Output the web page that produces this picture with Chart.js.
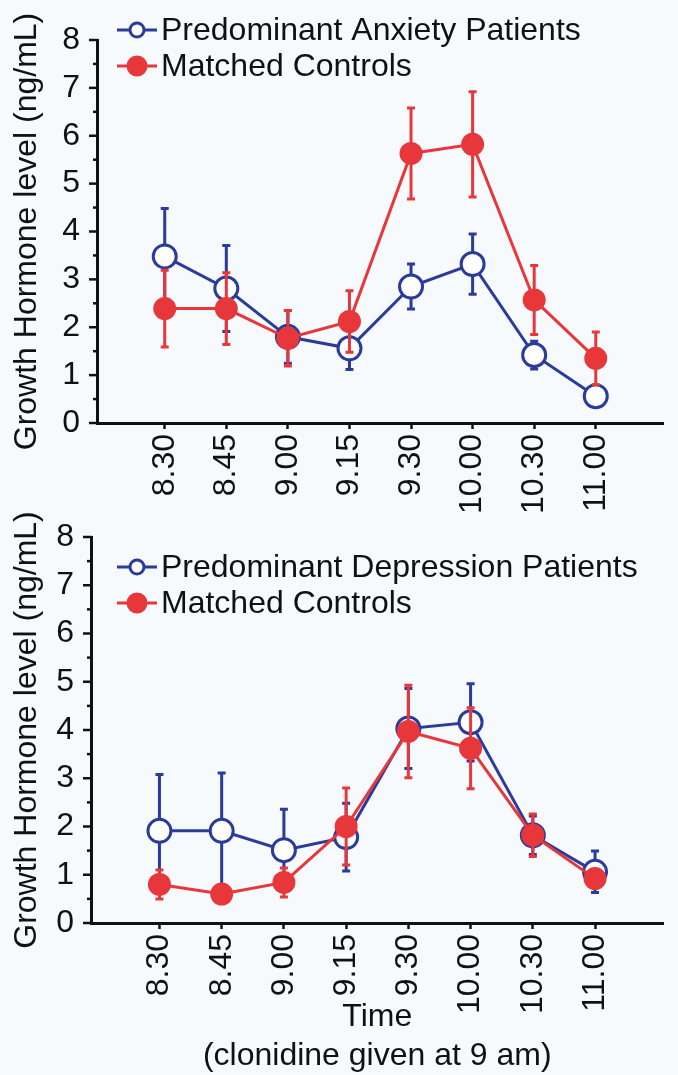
<!DOCTYPE html>
<html>
<head>
<meta charset="utf-8">
<script src="https://cdn.jsdelivr.net/npm/chart.js@4.4.1/dist/chart.umd.min.js"></script>
<style>
    html, body { margin: 0; padding: 0; background: #f7fafd; }
    body { width: 678px; height: 1075px; position: relative; overflow: hidden; }
    canvas { position: absolute; left: 0; }
    #anxietyChart { top: 0; }
    #depressionChart { top: 495px; }
</style>
</head>
<body>
<canvas id="anxietyChart" width="678" height="530"></canvas>
<canvas id="depressionChart" width="678" height="580"></canvas>
<script>
// sampling times (x categories)
const timeLabels = ["8.30", "8.45", "9.00", "9.15", "9.30", "10.00", "10.30", "11.00"];

// top panel: anxiety
const anxietyPatients = [3.48, 2.81, 1.80, 1.56, 2.85, 3.32, 1.42, 0.56];
const anxietyPatientsErr = [1.00, 0.90, 0.55, 0.44, 0.47, 0.63, 0.29, 0.10];
const anxietyControls = [2.39, 2.39, 1.77, 2.12, 5.63, 5.82, 2.57, 1.35];
const anxietyControlsErr = [0.80, 0.75, 0.58, 0.64, 0.95, 1.10, 0.72, 0.55];

// bottom panel: depression
const depressionPatients = [1.91, 1.91, 1.51, 1.78, 4.03, 4.16, 1.82, 1.06];
const depressionPatientsErr = [1.17, 1.20, 0.85, 0.70, 0.83, 0.80, 0.40, 0.43];
const depressionControls = [0.80, 0.60, 0.84, 2.00, 3.97, 3.62, 1.82, 0.92];
const depressionControlsErr = [0.30, 0.15, 0.30, 0.80, 0.96, 0.84, 0.44, 0.10];

const BLUE = "#2b3b9c";
const RED = "#e8373b";
const INK = "#111111";
const FONT = "'Liberation Sans', Arial, Helvetica, sans-serif";
const FS = 32;

Chart.defaults.font.family = FONT;
Chart.defaults.color = INK;

// error bars drawn just before each dataset, so markers sit on top
const errorBars = {
    id: "errorBars",
    beforeDatasetDraw(chart, args) {
        const ds = chart.data.datasets[args.index];
        if (!ds.errors) return;
        const yScale = chart.scales.y;
        const ctx = chart.ctx;
        ctx.save();
        ctx.strokeStyle = ds.borderColor;
        ctx.lineWidth = 3;
        args.meta.data.forEach((pt, i) => {
            const v = ds.data[i].y;
            const e = ds.errors[i];
            const top = yScale.getPixelForValue(v + e);
            const bot = yScale.getPixelForValue(v - e);
            ctx.beginPath();
            ctx.moveTo(pt.x, top);
            ctx.lineTo(pt.x, bot);
            ctx.moveTo(pt.x - 4, top);
            ctx.lineTo(pt.x + 4, top);
            ctx.moveTo(pt.x - 4, bot);
            ctx.lineTo(pt.x + 4, bot);
            ctx.stroke();
        });
        ctx.restore();
    }
};

// y tick marks: long on whole numbers, short on halves
const yTickMarks = {
    id: "yTickMarks",
    afterDraw(chart) {
        const y = chart.scales.y;
        const left = chart.chartArea.left;
        const ctx = chart.ctx;
        ctx.save();
        ctx.strokeStyle = INK;
        ctx.lineWidth = 2.5;
        y.ticks.forEach((t) => {
            const py = y.getPixelForValue(t.value);
            const len = Number.isInteger(t.value) ? 8 : 4;
            ctx.beginPath();
            ctx.moveTo(left - len, py);
            ctx.lineTo(left + 1, py);
            ctx.stroke();
        });
        ctx.restore();
    }
};

// legend: short line with marker, then label
const lineLegend = {
    id: "lineLegend",
    afterDraw(chart, args, opts) {
        const ctx = chart.ctx;
        ctx.save();
        ctx.font = FS + "px " + FONT;
        ctx.textBaseline = "middle";
        chart.data.datasets.forEach((ds, i) => {
            const y = opts.rows[i];
            ctx.strokeStyle = ds.borderColor;
            ctx.lineWidth = 3;
            ctx.beginPath();
            ctx.moveTo(opts.x0, y);
            ctx.lineTo(opts.x0 + 40, y);
            ctx.stroke();
            ctx.beginPath();
            ctx.arc(opts.x0 + 20, y, ds.legendRadius, 0, Math.PI * 2);
            ctx.fillStyle = ds.pointBackgroundColor;
            ctx.fill();
            ctx.stroke();
            ctx.fillStyle = INK;
            ctx.fillText(ds.label, opts.x0 + 44, y + 1);
        });
        ctx.restore();
    }
};

function toPoints(values) {
    return values.map((v, i) => ({ x: i + 1, y: v }));
}

function makeChart(canvasId, patientLabel, patients, patientsErr, controls, controlsErr, layout) {
    const ctx = document.getElementById(canvasId).getContext("2d");
    return new Chart(ctx, {
        type: "line",
        plugins: [errorBars, yTickMarks, lineLegend],
        data: {
            datasets: [
                {
                    label: patientLabel,
                    data: toPoints(patients),
                    errors: patientsErr,
                    borderColor: BLUE,
                    borderWidth: 3,
                    pointRadius: 11.5,
                    pointBorderWidth: 3,
                    pointBackgroundColor: "#ffffff",
                    pointBorderColor: BLUE,
                    legendRadius: 7,
                    tension: 0,
                    order: 1
                },
                {
                    label: "Matched Controls",
                    data: toPoints(controls),
                    errors: controlsErr,
                    borderColor: RED,
                    borderWidth: 3,
                    pointRadius: 11.5,
                    pointBorderWidth: 0,
                    pointBackgroundColor: RED,
                    pointBorderColor: RED,
                    legendRadius: 9,
                    tension: 0,
                    order: 0
                }
            ]
        },
        options: {
            responsive: false,
            animation: false,
            clip: false,
            layout: { padding: { top: layout.top, right: layout.right, left: 0, bottom: 0 } },
            plugins: {
                legend: { display: false },
                tooltip: { enabled: false },
                lineLegend: { x0: 117, rows: layout.legendRows }
            },
            scales: {
                x: {
                    type: "linear",
                    min: -0.1,
                    max: 9.1,
                    afterBuildTicks: (scale) => {
                        scale.ticks = timeLabels.map((_, i) => ({ value: i + 1 }));
                    },
                    afterFit: (scale) => {
                        scale.height = layout.xHeight;
                        scale.paddingLeft = 0;
                        scale.paddingRight = 0;
                    },
                    grid: {
                        display: true,
                        drawOnChartArea: false,
                        drawTicks: true,
                        tickLength: 6,
                        tickWidth: 2.5,
                        tickColor: INK
                    },
                    border: { display: true, color: INK, width: 3 },
                    ticks: {
                        autoSkip: false,
                        minRotation: 90,
                        maxRotation: 90,
                        padding: 5,
                        font: { size: FS },
                        color: INK,
                        callback: (v) => timeLabels[v - 1]
                    },
                    title: {
                        display: layout.xTitle.length > 0,
                        text: layout.xTitle,
                        font: { size: FS },
                        color: INK,
                        padding: { top: 0, bottom: 0 }
                    }
                },
                y: {
                    min: 0,
                    max: 8,
                    afterFit: (scale) => {
                        scale.width = layout.yWidth;
                        scale.paddingTop = 0;
                        scale.paddingBottom = 0;
                    },
                    grid: { display: false, drawTicks: false },
                    border: { display: true, color: INK, width: 3 },
                    ticks: {
                        stepSize: 0.5,
                        autoSkip: false,
                        padding: 17,
                        font: { size: FS },
                        color: INK,
                        callback: (v) => (Number.isInteger(v) ? String(v) : "")
                    },
                    title: {
                        display: true,
                        text: "Growth Hormone level (ng/mL)",
                        font: { size: FS },
                        color: INK,
                        padding: { top: 8, bottom: 0 }
                    }
                }
            }
        }
    });
}

makeChart("anxietyChart", "Predominant Anxiety Patients",
    anxietyPatients, anxietyPatientsErr, anxietyControls, anxietyControlsErr,
    { top: 40, right: 3, xHeight: 107, yWidth: 97, legendRows: [30, 66], xTitle: [] });

makeChart("depressionChart", "Predominant Depression Patients",
    depressionPatients, depressionPatientsErr, depressionControls, depressionControlsErr,
    { top: 42, right: 8, xHeight: 152, yWidth: 91, legendRows: [72, 108],
      xTitle: ["Time", "(clonidine given at 9 am)"] });
</script>
</body>
</html>
